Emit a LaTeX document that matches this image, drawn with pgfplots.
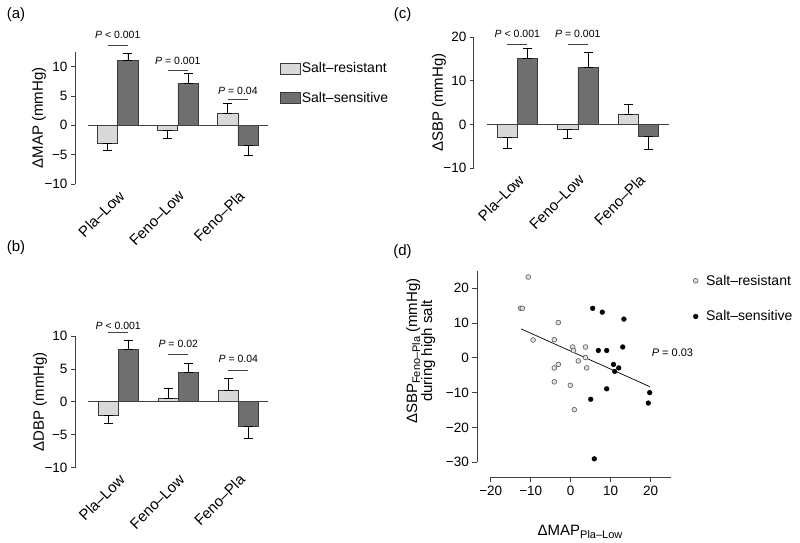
\documentclass[border=0pt]{standalone}
\usepackage{fontspec}
\setmainfont{Liberation Sans}
\usepackage{pgfplots}
\pgfplotsset{compat=1.18}

\definecolor{lightbar}{HTML}{D9D9D9}
\definecolor{darkbar}{HTML}{6F6F6F}
\definecolor{edge}{HTML}{3A3A3A}
\definecolor{axisc}{HTML}{404040}

\newcommand{\fs}[1]{\fontsize{#1}{#1}\selectfont}

\tikzset{
  pline/.style={axisc, line width=0.8pt},
  ptext/.style={font=\fs{10.5}},
}

\pgfplotsset{
  barpanel/.style={
    scale only axis, anchor=south west, clip=false,
    xmax=2.5,
    axis lines=left,
    axis line style={-, axisc, line width=0.8pt},
    x axis line style={draw=none},
    xtick={0,1,2}, xticklabels={Pla–Low,Feno–Low,Feno–Pla},
    xtick style={draw=none},
    x tick label style={rotate=45, anchor=north east, font=\fs{15}, inner sep=1pt},
    tick align=outside, major tick length=4pt,
    ytick style={axisc, line width=0.8pt},
    y tick label style={font=\fs{13.5}},
    ylabel style={font=\fs{15}, anchor=center},
  },
  errs/.style={error bars/.cd, y dir=both, y explicit,
    error bar style={black, line width=0.7pt},
    error mark options={rotate=90, mark size=4.5pt, black, line width=0.7pt}},
  lightb/.style={ybar, bar width=20.3pt, bar shift=0pt, fill=lightbar, draw=edge, line width=0.7pt, errs},
  darkb/.style={ybar, bar width=20.3pt, bar shift=0pt, fill=darkbar, draw=edge, line width=0.7pt, errs},
  zeroline/.style={axisc, line width=0.8pt},
}

\begin{document}
\begin{tikzpicture}
\useasboundingbox (0,0) rectangle (800pt,543pt);

% panel letters
\node[font=\fs{15}] at (16pt,528pt) {(a)};
\node[font=\fs{15}] at (16pt,295pt) {(b)};
\node[font=\fs{15}] at (402.5pt,528pt) {(c)};
\node[font=\fs{15}] at (402.5pt,291.3pt) {(d)};

% ---------------- (a) ----------------
\begin{axis}[barpanel,
  at={(75pt,359pt)}, width=193pt, height=132.1pt,
  xmin=-0.711, ymin=-10, ymax=12.5,
  ytick={-10,-5,0,5,10}, yticklabels={−10,−5,0,5,10},
  ylabel={ΔMAP (mmHg)},
  ylabel style={at={(axis description cs:-0.1865,0.5)}},
  legend style={at={(axis description cs:1.062,0.927)}, anchor=north west, draw=none, fill=none,
    font=\fs{14}, row sep=15.5pt, column sep=0pt, inner sep=0pt, nodes={inner sep=1pt}},
  legend cell align=left,
  legend image code/.code={\draw[#1] (0pt,-5.5pt) rectangle (20pt,5.5pt);},
]
\addplot[lightb] table[x=x,y=y,y error plus=ep,y error minus=em] {
x y ep em
-0.169 -3.1 0 1.1
0.831 -0.8 0 1.5
1.831 2.0 1.75 0
};
\addplot[darkb] table[x=x,y=y,y error plus=ep,y error minus=em] {
x y ep em
0.169 11.0 1.3 0
1.169 7.2 1.7 0
2.169 -3.5 0 1.6
};
\legend{Salt–resistant,Salt–sensitive}
\addplot[zeroline] coordinates {(-0.5,0) (2.5,0)};
\draw[pline] (axis cs:-0.166,13.56) -- (axis cs:0.166,13.56);
\draw[pline] (axis cs:0.834,9.42) -- (axis cs:1.166,9.42);
\draw[pline] (axis cs:1.834,4.43) -- (axis cs:2.166,4.43);
\node[ptext] at (axis cs:0,15.4) {\textit{P} < 0.001};
\node[ptext] at (axis cs:1,11.0) {\textit{P} = 0.001};
\node[ptext] at (axis cs:2,5.9) {\textit{P} = 0.04};
\end{axis}

% ---------------- (b) ----------------
\begin{axis}[barpanel,
  at={(75pt,75.3pt)}, width=193.3pt, height=131.7pt,
  xmin=-0.72, ymin=-10, ymax=10,
  ytick={-10,-5,0,5,10}, yticklabels={−10,−5,0,5,10},
  ylabel={ΔDBP (mmHg)},
  ylabel style={at={(axis description cs:-0.181,0.5)}},
]
\addplot[lightb] table[x=x,y=y,y error plus=ep,y error minus=em] {
x y ep em
-0.169 -2.0 0 1.2
0.831 0.6 1.5 0
1.831 1.8 1.8 0
};
\addplot[darkb] table[x=x,y=y,y error plus=ep,y error minus=em] {
x y ep em
0.169 8.0 1.4 0
1.169 4.5 1.4 0
2.169 -3.7 0 1.8
};
\addplot[zeroline] coordinates {(-0.5,0) (2.5,0)};
\draw[pline] (axis cs:-0.166,10.49) -- (axis cs:0.166,10.49);
\draw[pline] (axis cs:0.834,7.13) -- (axis cs:1.166,7.13);
\draw[pline] (axis cs:1.834,4.78) -- (axis cs:2.166,4.78);
\node[ptext] at (axis cs:0,11.6) {\textit{P} < 0.001};
\node[ptext] at (axis cs:1,8.8) {\textit{P} = 0.02};
\node[ptext] at (axis cs:2,6.5) {\textit{P} = 0.04};
\end{axis}

% ---------------- (c) ----------------
\begin{axis}[barpanel,
  at={(473.8pt,375pt)}, width=194.8pt, height=130.7pt,
  xmin=-0.72, ymin=-10, ymax=20,
  ytick={-10,0,10,20}, yticklabels={−10,0,10,20},
  ylabel={ΔSBP (mmHg)},
  ylabel style={at={(axis description cs:-0.179,0.5)}},
]
\addplot[lightb] table[x=x,y=y,y error plus=ep,y error minus=em] {
x y ep em
-0.168 -3.0 0 2.4
0.832 -1.1 0 2.1
1.832 2.4 2.1 0
};
\addplot[darkb] table[x=x,y=y,y error plus=ep,y error minus=em] {
x y ep em
0.168 15.1 2.3 0
1.168 13.0 3.5 0
2.168 -2.7 0 3.1
};
\addplot[zeroline] coordinates {(-0.5,0) (2.5,0)};
\draw[pline] (axis cs:-0.166,18.4) -- (axis cs:0.166,18.4);
\draw[pline] (axis cs:0.834,18.4) -- (axis cs:1.166,18.4);
\node[ptext] at (axis cs:0,20.7) {\textit{P} < 0.001};
\node[ptext] at (axis cs:1,20.7) {\textit{P} = 0.001};
\end{axis}

% ---------------- (d) ----------------
\begin{axis}[scale only axis, anchor=south west, clip=false,
  at={(477.3pt,65.7pt)}, width=193.4pt, height=206.6pt,
  xmin=-23.35, xmax=25, ymin=-34.3, ymax=25,
  axis lines=left,
  axis line style={-, axisc, line width=0.8pt},
  x axis line style={shorten <=13.4pt},
  y axis line style={shorten <=15pt},
  xtick={-20,-10,0,10,20}, xticklabels={−20,−10,0,10,20},
  ytick={-30,-20,-10,0,10,20}, yticklabels={−30,−20,−10,0,10,20},
  tick align=outside, major tick length=5pt,
  tick style={axisc, line width=0.8pt},
  tick label style={font=\fs{13.5}},
  xlabel={ΔMAP{\fs{11}\raisebox{-3pt}{Pla–Low}}},
  xlabel style={font=\fs{15}, at={(axis description cs:0.531,-0.263)}, anchor=center},
  ylabel={ΔSBP{\fs{11}\raisebox{-3pt}{Feno–Pla}} (mmHg)\\during high salt},
  ylabel style={font=\fs{15}, align=center, at={(axis description cs:-0.292,0.611)}, anchor=center},
  legend style={at={(axis description cs:1.116,0.985)}, anchor=north west, draw=none, fill=none,
    font=\fs{14}, row sep=22pt, column sep=7pt, inner sep=0pt, nodes={inner sep=1pt}},
  legend cell align=left,
  legend image code/.code={\draw[mark repeat=2,mark phase=2,#1] plot coordinates {(0pt,0pt) (5pt,0pt) (10pt,0pt)};},
]
\addplot[only marks, mark=*, mark size=2.4pt, mark options={fill=black!12, draw=black!65, line width=0.6pt}] table {
x y
-10.6 23.2
-12.5 14.2
-12.1 14.2
-9.4 5.1
-3.1 10.1
-4.1 5.2
0.5 3.1
0.7 2.1
3.7 3.1
3.7 0.1
1.9 -0.9
4.0 -2.9
-3.1 -1.9
-4.1 -2.9
-4.1 -6.9
-0.1 -7.9
0.9 -14.9
};
\addplot[only marks, mark=*, mark size=2.4pt, mark options={fill=black, draw=black}] table {
x y
5.5 14.2
7.9 13.1
13.3 11.1
6.9 2.1
9.0 2.1
13.0 3.1
10.7 -1.9
12.0 -2.9
11.0 -3.9
9.0 -8.9
5.0 -11.9
19.75 -10.0
19.4 -13.0
5.9 -29.0
};
\legend{Salt–resistant,Salt–sensitive}
\addplot[black, line width=0.7pt] coordinates {(-12.4,8.3) (19.8,-8.3)};
\node[font=\fs{11}, anchor=west] at (axis cs:19.4,1.6) {\textit{P} = 0.03};
\end{axis}
\end{tikzpicture}
\end{document}
